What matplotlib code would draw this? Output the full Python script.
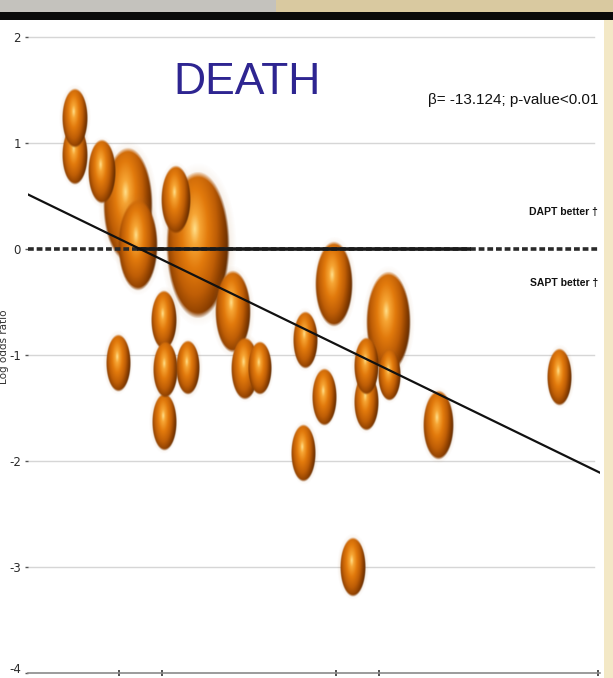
import numpy as np
import matplotlib
matplotlib.use("Agg")
import matplotlib.pyplot as plt
from matplotlib.colors import LinearSegmentedColormap
from matplotlib.patches import Rectangle

# study-level meta-regression points: moderator, log odds ratio, relative weight
study_x = [0.0164, 0.0164, 0.0259, 0.0350, 0.0385, 0.0517, 0.0594, 0.0717,
           0.0476, 0.0315, 0.0479, 0.0559, 0.0476, 0.0759, 0.0811, 0.0969,
           0.1070, 0.1035, 0.0965, 0.1259, 0.1182, 0.1182, 0.1262, 0.1434,
           0.1136, 0.1860]
study_logor = [1.236, 0.887, 0.726, 0.415, 0.038, 0.462, 0.038, -0.594,
               -0.670, -1.075, -1.142, -1.123, -1.632, -1.123, -1.132, -0.858,
               -0.330, -1.396, -1.925, -0.689, -1.104, -1.443, -1.189, -1.660,
               -3.000, -1.208]
study_weight = [1.08, 1.08, 1.25, 4.0, 2.56, 1.44, 6.55, 2.07,
                1.08, 1.0, 0.95, 0.9, 1.0, 1.2, 0.85, 1.0,
                2.2, 1.0, 1.0, 3.1, 1.0, 1.0, 0.8, 1.45,
                1.08, 1.0]

beta = -13.124
intercept = 0.514
y_ticks = [-4, -3, -2, -1, 0, 1, 2]
x_ticks = [0.0318, 0.0469, 0.1077, 0.1227, 0.1993]

fig = plt.figure(figsize=(6.13, 6.78), dpi=100)
fig.patch.set_facecolor("white")

# slide frame: grey/tan strip, black rule, cream right edge
fig.add_artist(Rectangle((0, 0.982), 0.45, 0.018, transform=fig.transFigure,
                         facecolor="#c4c2bd", edgecolor="none"))
fig.add_artist(Rectangle((0.45, 0.982), 0.55, 0.018, transform=fig.transFigure,
                         facecolor="#d9c9a0", edgecolor="none"))
fig.add_artist(Rectangle((0, 0.971), 1, 0.012, transform=fig.transFigure,
                         facecolor="#0a0a0a", edgecolor="none"))
fig.add_artist(Rectangle((0.985, 0), 0.015, 0.971, transform=fig.transFigure,
                         facecolor="#f3e8c6", edgecolor="none"))

ax = fig.add_axes([0.0457, 0.0074, 0.9331, 0.9631])
ax.set_facecolor("none")
xmin, xmax = 0.0, 0.2
ymin, ymax = -4.0, 2.16

# shaded sphere sprite, reused for every study
cmap = LinearSegmentedColormap.from_list(
    "ball",
    [(0.0, "#ffdf8a"), (0.14, "#f6a534"), (0.36, "#e27a0c"),
     (0.6, "#bf5e06"), (0.8, "#8a3e00"), (1.0, "#552602")])
n = 160
u, v = np.meshgrid(np.linspace(-1, 1, n), np.linspace(-1, 1, n))
r = np.hypot(u, v)
t = np.hypot((u + 0.1) * 1.05, (v - 0.22) / 1.25)
rgba = cmap(np.clip(t / 1.2, 0, 1))
rgba[..., 3] = np.clip((1.0 - r) / 0.08, 0, 1)

halo = np.zeros_like(rgba)
halo[..., :3] = matplotlib.colors.to_rgb("#b87a3a")
halo[..., 3] = np.clip((1.0 - r) / 0.35, 0, 1) * 0.22

px_per_x = 572 / (xmax - xmin)
px_per_y = 653 / (ymax - ymin)
order = np.argsort(study_weight)[::-1]
for k, i in enumerate(order):
    wpx = 25 * np.sqrt(study_weight[i])
    w = wpx / px_per_x
    h = 2.3 * wpx / px_per_y
    x, y = study_x[i], study_logor[i]
    ax.imshow(halo, extent=[x - w * 0.6, x + w * 0.6, y - h * 0.56, y + h * 0.56],
              origin="lower", aspect="auto", interpolation="bilinear", zorder=2 + k * 0.01)
    ax.imshow(rgba, extent=[x - w / 2, x + w / 2, y - h / 2, y + h / 2],
              origin="lower", aspect="auto", interpolation="bilinear", zorder=2.005 + k * 0.01)

# reference line at log OR = 0
ax.axhline(0, color="#2a2a2a", lw=2.6, ls=(0, (1.6, 0.8)), zorder=4)
ax.hlines(0, 0.038, 0.155, color="#1a1a1a", lw=2.6, zorder=4)

# meta-regression fit
xs = np.array([xmin, xmax])
ax.plot(xs, intercept + beta * xs, color="#111111", lw=1.6, zorder=5)

ax.set_xlim(xmin, xmax)
ax.set_ylim(ymin, ymax)

for yt in y_ticks:
    if yt not in (0, -4):
        ax.axhline(yt, xmin=0, xmax=0.99, color="#d6d6d6", lw=1.0, zorder=1)

ax.set_yticks(y_ticks)
ax.set_yticklabels([str(v) for v in y_ticks], fontsize=8.5, color="#2a2a2a")
ax.get_yticklabels()[0].set_va("baseline")
ax.tick_params(axis="y", length=2, width=1, pad=3, color="#555555")
ax.set_xticks(x_ticks)
ax.set_xticklabels([])
ax.tick_params(axis="x", direction="inout", length=5, width=1.2, color="#333333")

for side in ("top", "right", "left"):
    ax.spines[side].set_visible(False)
ax.spines["bottom"].set_color("#8a8a8a")
ax.spines["bottom"].set_linewidth(1.2)

ax.set_ylabel("Log odds ratio", fontsize=7.5, color="#333333")
ax.yaxis.set_label_coords(-0.033, 0.5)

narrow = ["Liberation Sans Narrow", "Liberation Sans", "DejaVu Sans"]
ax.text(0.0766, 1.566, "DEATH", family=narrow, fontsize=32, color="#2e2591",
        ha="center", va="center", zorder=6)
ax.text(0.1993, 1.406, "β= -13.124; p-value<0.01", family=narrow, fontsize=11,
        color="#111111", ha="right", va="center", zorder=6)
ax.text(0.1993, 0.349, "DAPT better †", family=narrow, fontsize=7.5,
        fontweight="bold", color="#111111", ha="right", va="center", zorder=6)
ax.text(0.1993, -0.321, "SAPT better †", family=narrow, fontsize=7.5,
        fontweight="bold", color="#111111", ha="right", va="center", zorder=6)

fig.savefig("out.png", dpi=100)
